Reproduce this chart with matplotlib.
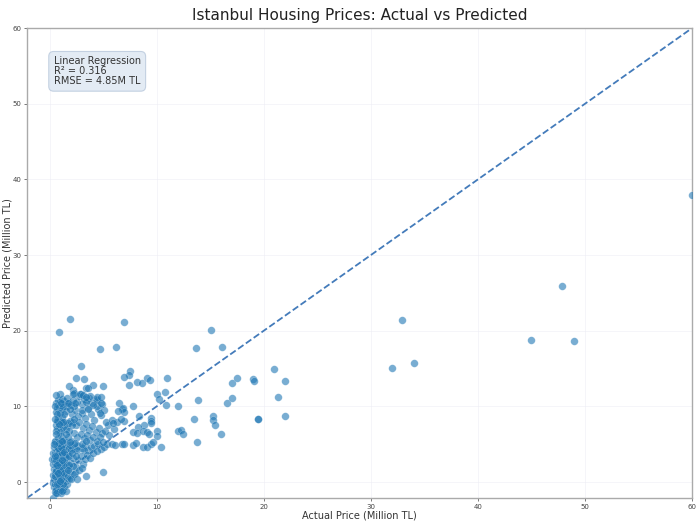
import numpy as np
import matplotlib
matplotlib.use("Agg")
import matplotlib.pyplot as plt

# points: (actual, predicted) in million TL
column_pts = [
    (0.3, -2.05),
    (0.5, -1.3), (0.7, -1.5), (0.9, -1.2), (1.1, -1.4), (1.3, -1.0), (1.5, -1.2),
    (0.4, -0.7), (0.6, -0.8), (0.8, -0.5), (1.0, -0.7), (1.2, -0.4), (1.4, -0.6), (1.6, -0.3),
    (0.3, -0.1), (0.5, -0.2), (0.7, 0.0), (0.9, 0.2), (1.1, -0.1), (1.3, 0.3), (1.5, 0.1),
    (0.4, 0.4), (0.6, 0.5), (0.8, 0.7), (1.0, 0.9), (1.2, 0.6), (1.4, 0.8), (1.6, 0.5),
    (0.3, 1.0), (0.5, 1.1), (0.7, 1.3), (0.9, 1.5), (1.1, 1.2), (1.3, 1.4), (1.5, 1.6),
    (0.4, 1.7), (0.6, 1.8), (0.8, 2.0), (1.0, 2.2), (1.2, 1.9), (1.4, 2.1), (1.6, 2.3),
    (0.3, 2.4), (0.5, 2.5), (0.7, 2.7), (0.9, 2.9), (1.1, 2.6), (1.3, 2.8), (1.5, 3.0),
    (0.2, 3.0), (0.4, 3.1), (0.6, 3.2), (0.8, 3.4), (1.0, 3.6), (1.2, 3.3), (1.4, 3.5), (1.6, 3.7),
    (0.3, 3.8), (0.5, 3.9), (0.7, 4.1), (0.9, 4.3), (1.1, 4.0), (1.3, 4.2), (1.5, 4.4),
    (0.4, 4.6), (0.7, 4.7), (1.0, 4.9), (1.3, 4.6), (1.6, 4.8),
    (0.5, 5.3), (0.8, 5.1), (1.1, 5.4), (1.4, 5.2),
    (0.6, -1.0), (1.0, -1.1), (0.8, 0.3), (1.2, 1.0), (0.6, 2.2), (1.0, 3.0), (0.8, 3.8),
    (1.2, 4.5), (0.9, -0.3), (1.3, -0.2), (0.5, 0.8), (1.1, 1.8), (0.7, 3.5), (1.4, 2.6),
    (0.9, 4.0), (1.5, 3.3),
    (0.6, -1.4), (1.2, -1.2), (0.7, -0.3), (1.1, 0.4), (0.9, 1.0), (0.6, 1.5), (1.3, 2.3),
    (0.9, 2.5), (0.6, 2.9), (1.2, 3.9), (0.8, 4.5), (1.0, 1.6), (1.4, 1.2), (0.5, 3.4),
    (1.1, 4.7), (0.7, 2.2), (1.0, 0.2), (0.8, 1.2), (1.2, 2.9), (1.4, 4.0),
]

band_pts = [
    (1.8, 4.5), (2.1, 4.7), (2.4, 4.4), (2.7, 4.8), (3.0, 4.5), (3.3, 4.9), (3.6, 4.3),
    (3.9, 4.6), (4.2, 4.8), (4.5, 5.0), (4.8, 4.4), (5.1, 4.7), (5.4, 5.0), (5.8, 5.0),
    (6.1, 4.9), (2.0, 4.2), (2.6, 4.3), (3.2, 4.2), (1.9, 4.9), (2.3, 5.0),
    (1.7, 0.8), (1.9, 0.6), (1.9, 1.5), (2.0, 2.5), (2.2, 3.2), (2.4, 1.2), (2.5, 2.0),
    (2.7, 2.9), (2.9, 3.5), (3.1, 2.4), (3.3, 3.0), (2.0, 0.4), (2.3, 1.1), (1.8, 3.4),
    (2.8, 1.6), (3.4, 0.8), (2.6, 0.4), (3.5, 3.6), (3.8, 3.2), (4.1, 3.9), (4.4, 4.1),
    (2.2, 2.1), (1.8, 2.2), (1.7, 1.6), (2.1, 3.8), (2.5, 3.5), (3.0, 1.9), (5.0, 1.3),
]

mid_pts = [
    (2.1, 9.0), (2.4, 9.5), (2.7, 8.8), (3.0, 9.2), (3.3, 8.5), (3.6, 9.8), (3.9, 9.0),
    (4.2, 8.2), (4.5, 9.6), (4.8, 8.9), (2.2, 8.0), (2.5, 7.5), (2.8, 7.9), (3.1, 7.2),
    (3.4, 7.7), (3.7, 6.9), (4.0, 7.4), (4.3, 6.6), (4.6, 7.1), (4.9, 6.5), (2.3, 6.5),
    (2.6, 6.0), (2.9, 6.4), (3.2, 5.8), (3.5, 6.2), (3.8, 5.6), (4.1, 6.0), (4.4, 5.4),
    (4.7, 5.9), (5.0, 5.3), (2.0, 5.5), (2.4, 5.2), (3.0, 5.1), (3.4, 5.4), (5.2, 6.8),
    (5.5, 7.5), (5.3, 8.0), (5.6, 6.2), (5.8, 8.2), (6.0, 7.0), (5.1, 9.5), (4.4, 10.0),
    (4.0, 10.5), (3.5, 10.9), (3.7, 11.1), (4.3, 11.0), (4.9, 10.3), (3.0, 10.3), (2.6, 10.6),
    (2.8, 11.4), (3.2, 11.0), (2.3, 10.1), (2.9, 11.6), (3.75, 11.4), (4.4, 10.9), (4.8, 10.4),
    (4.1, 10.2), (3.4, 10.6), (3.0, 9.5), (3.6, 9.7), (4.7, 9.2),
    (0.6, 7.6), (0.8, 7.9), (1.0, 8.2), (1.2, 7.7), (1.4, 8.0), (1.6, 7.5), (0.7, 7.2),
    (0.9, 7.4), (1.1, 6.9), (1.3, 7.3), (1.5, 7.0), (1.7, 7.8), (1.9, 8.1), (2.1, 7.6),
    (2.3, 8.3), (0.8, 8.5), (1.2, 8.6), (1.0, 6.6), (0.6, 6.8), (1.8, 6.7), (0.7, 8.1),
    (1.1, 8.0), (1.3, 7.9), (0.9, 7.7),
    (0.6, 10.5), (0.8, 10.2), (1.0, 10.6), (1.2, 10.3), (1.4, 10.7), (1.6, 10.1), (1.8, 10.5),
    (2.0, 10.2), (0.7, 9.8), (0.9, 9.9), (1.1, 9.6), (1.3, 9.9), (1.5, 9.4), (0.8, 10.9),
    (1.2, 11.0), (1.6, 11.1), (2.2, 10.8), (2.4, 10.4), (0.6, 9.3), (1.0, 9.1), (1.4, 9.0),
    (1.9, 9.6), (0.5, 10.0), (1.1, 10.4), (1.7, 10.4),
    (0.5, 5.5), (0.8, 5.8), (1.1, 6.1), (1.4, 5.6), (1.7, 6.0), (0.6, 6.3), (0.9, 5.2),
    (1.2, 5.4), (1.5, 6.4), (0.4, 5.0), (1.9, 5.3), (0.7, 9.0), (0.5, 8.4),
    (2.2, 12.2), (2.3, 11.8), (2.2, 11.7), (2.85, 11.6), (3.1, 11.45), (3.44, 11.3),
    (4.4, 11.3), (4.8, 11.3), (6.8, 9.6), (7.0, 8.1),
]

upper_pts = [
    (1.9, 21.6), (0.9, 19.9), (7.0, 21.2), (4.7, 17.6), (6.2, 17.8), (2.9, 15.4),
    (2.5, 13.8), (3.2, 13.6), (4.1, 12.9), (5.0, 12.7), (3.4, 12.5), (3.6, 12.4),
    (1.85, 12.7), (1.0, 11.7), (0.6, 11.5), (7.5, 14.7), (7.4, 14.2), (7.0, 13.9),
    (7.4, 12.8), (8.2, 13.2), (8.6, 13.1), (9.1, 13.7), (9.4, 13.5), (11.0, 13.7),
    (10.8, 11.9), (10.0, 11.6), (10.2, 11.0), (10.9, 10.2), (12.0, 10.0), (6.5, 10.5),
    (6.9, 9.8), (7.8, 10.0), (7.0, 9.3), (6.4, 9.4), (6.3, 8.0), (5.9, 7.8), (6.7, 8.4),
    (8.4, 8.7), (9.5, 8.5), (9.5, 8.1), (9.5, 7.8), (8.8, 7.6), (8.3, 7.3), (7.8, 6.6),
    (8.2, 6.5), (8.7, 6.7), (9.1, 6.6), (9.3, 6.3), (10.0, 6.7), (10.0, 6.1), (7.8, 4.9),
    (8.1, 5.2), (8.75, 4.6), (9.1, 4.7), (9.5, 5.0), (9.7, 5.3), (10.4, 4.6), (6.8, 5.1),
    (7.0, 5.0), (12.0, 6.7), (12.3, 6.9), (12.5, 6.4), (13.7, 17.7), (15.1, 20.1),
    (16.1, 17.8), (13.9, 10.9), (13.5, 8.3), (13.8, 5.3), (15.3, 8.7), (15.3, 8.2),
    (15.5, 7.5), (16.0, 6.3), (16.6, 10.5), (17.0, 11.1), (17.0, 13.1), (17.5, 13.8),
    (19.0, 13.6), (19.05, 13.4), (21.0, 15.0), (22.0, 13.3), (21.3, 11.2), (19.5, 8.4),
    (19.5, 8.4), (22.0, 8.7),
]

high_pts = [
    (32.0, 15.1), (32.9, 21.4), (34.0, 15.7), (45.0, 18.8), (47.9, 25.9),
    (49.0, 18.6), (60.0, 38.0),
]

r2 = 0.316
rmse = 4.85
ticks = [0, 10, 20, 30, 40, 50, 60]

pts = np.array(column_pts + band_pts + mid_pts + upper_pts + high_pts)
actual = pts[:, 0]
predicted = pts[:, 1]

fig = plt.figure(figsize=(7, 5.25), dpi=100)
ax = fig.add_axes([0.0386, 0.0514, 0.95, 0.895])

lo, hi = -2.1, 60
ax.scatter(actual, predicted, s=30, color='#1f77b4', alpha=0.6,
           edgecolors='white', linewidths=0.2, zorder=3)
ax.plot([lo, hi], [lo, hi], '--', color='#2f6db3', lw=1.3, alpha=0.9, zorder=2)

ax.set_xlim(lo, hi)
ax.set_ylim(lo, hi)
ax.set_xticks(ticks)
ax.set_yticks(ticks)
ax.tick_params(labelsize=5, colors='#444444', length=2, width=0.5, pad=2)
ax.grid(True, color='#ececf4', lw=0.6, alpha=0.6)
ax.set_axisbelow(True)
for sp in ax.spines.values():
    sp.set_color('#aaaaaa')
    sp.set_linewidth(1.0)

ax.set_xlabel('Actual Price (Million TL)', fontsize=7, color='#333333', labelpad=1)
ax.set_ylabel('Predicted Price (Million TL)', fontsize=7, color='#333333')
ax.yaxis.set_label_coords(-0.0215, 0.5)
ax.set_title('Istanbul Housing Prices: Actual vs Predicted', fontsize=11,
             color='#222222', pad=6)

ax.text(0.04, 0.94, f'Linear Regression\nR\u00b2 = {r2:.3f}\nRMSE = {rmse:.2f}M TL',
        transform=ax.transAxes, fontsize=7, va='top', ha='left', color='#333333',
        linespacing=1.0,
        bbox=dict(boxstyle='round,pad=0.5', facecolor='#dce6f2', edgecolor='#b8c8dc',
                  alpha=0.8, lw=0.8))

fig.savefig('out.png', dpi=100)
